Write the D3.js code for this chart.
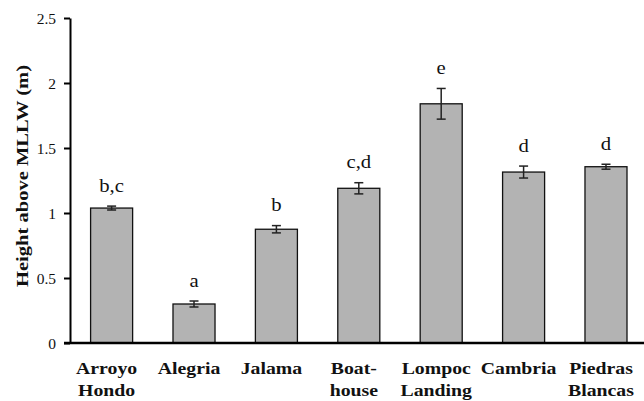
<!DOCTYPE html>
<html><head><meta charset="utf-8">
<script src="https://cdn.jsdelivr.net/npm/d3@7"></script>
<style>
html,body{margin:0;padding:0;background:#fff;}
svg{display:block;font-family:"Liberation Serif","Times New Roman",serif;}
</style></head>
<body>
<svg id="chart" width="644" height="401"></svg>
<script>
// ---- data ----
const categories = ["Arroyo Hondo","Alegria","Jalama","Boathouse","Lompoc Landing","Cambria","Piedras Blancas"];
const labelLines = [["Arroyo","Hondo"],["Alegria"],["Jalama"],["Boat-","house"],["Lompoc","Landing"],["Cambria"],["Piedras","Blancas"]];
const heights = [1.038, 0.300, 0.875, 1.190, 1.840, 1.315, 1.356];
const errors  = [0.015, 0.023, 0.028, 0.043, 0.118, 0.046, 0.019];
const letters = ["b,c","a","b","c,d","e","d","d"];
const tickValues = [0, 0.5, 1, 1.5, 2, 2.5];
const tickLabels = ["0","0.5","1","1.5","2","2.5"];
const yTitle = "Height above MLLW (m)";

// ---- layout ----
const svg = d3.select("#chart");
const y = d3.scaleLinear().domain([0, 2.5]).range([343, 18]);
const x = d3.scaleBand().domain(categories).range([70, 647.6]).paddingInner(0.49).paddingOuter(0.25);

// bars
svg.append("g").selectAll("rect").data(categories).join("rect")
  .attr("x", d => x(d))
  .attr("y", (d,i) => y(heights[i]))
  .attr("width", x.bandwidth())
  .attr("height", (d,i) => y(0) - y(heights[i]))
  .attr("fill", "#b3b3b3")
  .attr("stroke", "#111")
  .attr("stroke-width", 1.3);

// error bars
const eg = svg.append("g").attr("stroke", "#222").attr("stroke-width", 1.5);
categories.forEach((c, i) => {
  const cx = x(c) + x.bandwidth() / 2;
  const y1 = y(heights[i] + errors[i]), y2 = y(heights[i] - errors[i]);
  eg.append("line").attr("x1", cx).attr("x2", cx).attr("y1", y1).attr("y2", y2);
  eg.append("line").attr("x1", cx - 4.5).attr("x2", cx + 4.5).attr("y1", y1).attr("y2", y1);
  eg.append("line").attr("x1", cx - 4.5).attr("x2", cx + 4.5).attr("y1", y2).attr("y2", y2);
});

// significance letters
svg.append("g").selectAll("text").data(categories).join("text")
  .attr("transform", (d,i) => `translate(${x(d) + x.bandwidth()/2},${y(heights[i] + errors[i]) - 14.5}) scale(1.12,1)`)
  .attr("text-anchor", "middle")
  .style("font-size", "18.5px")
  .attr("fill", "#111")
  .text((d,i) => letters[i]);

// y axis
const yAxis = d3.axisLeft(y).tickValues(tickValues).tickFormat((d,i) => tickLabels[i])
  .tickSize(6).tickSizeOuter(0).tickPadding(8);
const ya = svg.append("g").attr("transform", "translate(70,0)").call(yAxis);
ya.select(".domain").attr("stroke", "#000").attr("stroke-width", 2);
ya.selectAll(".tick line").attr("stroke", "#000").attr("stroke-width", 2);
ya.selectAll(".tick text")
  .style("font-size", "15.5px")
  .style("font-family", "'Liberation Serif','Times New Roman',serif")
  .attr("fill", "#111")
  .attr("dy", "0.35em")
  .attr("transform", "scale(1,1)");

// x axis line
svg.append("line").attr("x1", 64).attr("x2", 644).attr("y1", y(0)).attr("y2", y(0))
  .attr("stroke", "#000").attr("stroke-width", 2.5);

// category labels
const lg = svg.append("g");
categories.forEach((c, i) => {
  const cx = x(c) + x.bandwidth() / 2 - 5;
  labelLines[i].forEach((t, j) => {
    lg.append("text")
      .attr("transform", `translate(${cx},${374 + j * 22}) scale(1.13,1)`)
      .attr("text-anchor", "middle")
      .style("font-size", "17.5px")
      .style("font-weight", "bold")
      .attr("fill", "#111")
      .text(t);
  });
});

// y title
svg.append("text")
  .attr("transform", "translate(28,176) rotate(-90)")
  .attr("text-anchor", "middle")
  .style("font-size", "17px")
  .style("font-weight", "bold")
  .attr("fill", "#111")
  .attr("textLength", 222)
  .attr("lengthAdjust", "spacingAndGlyphs")
  .text(yTitle);
</script>
</body></html>
